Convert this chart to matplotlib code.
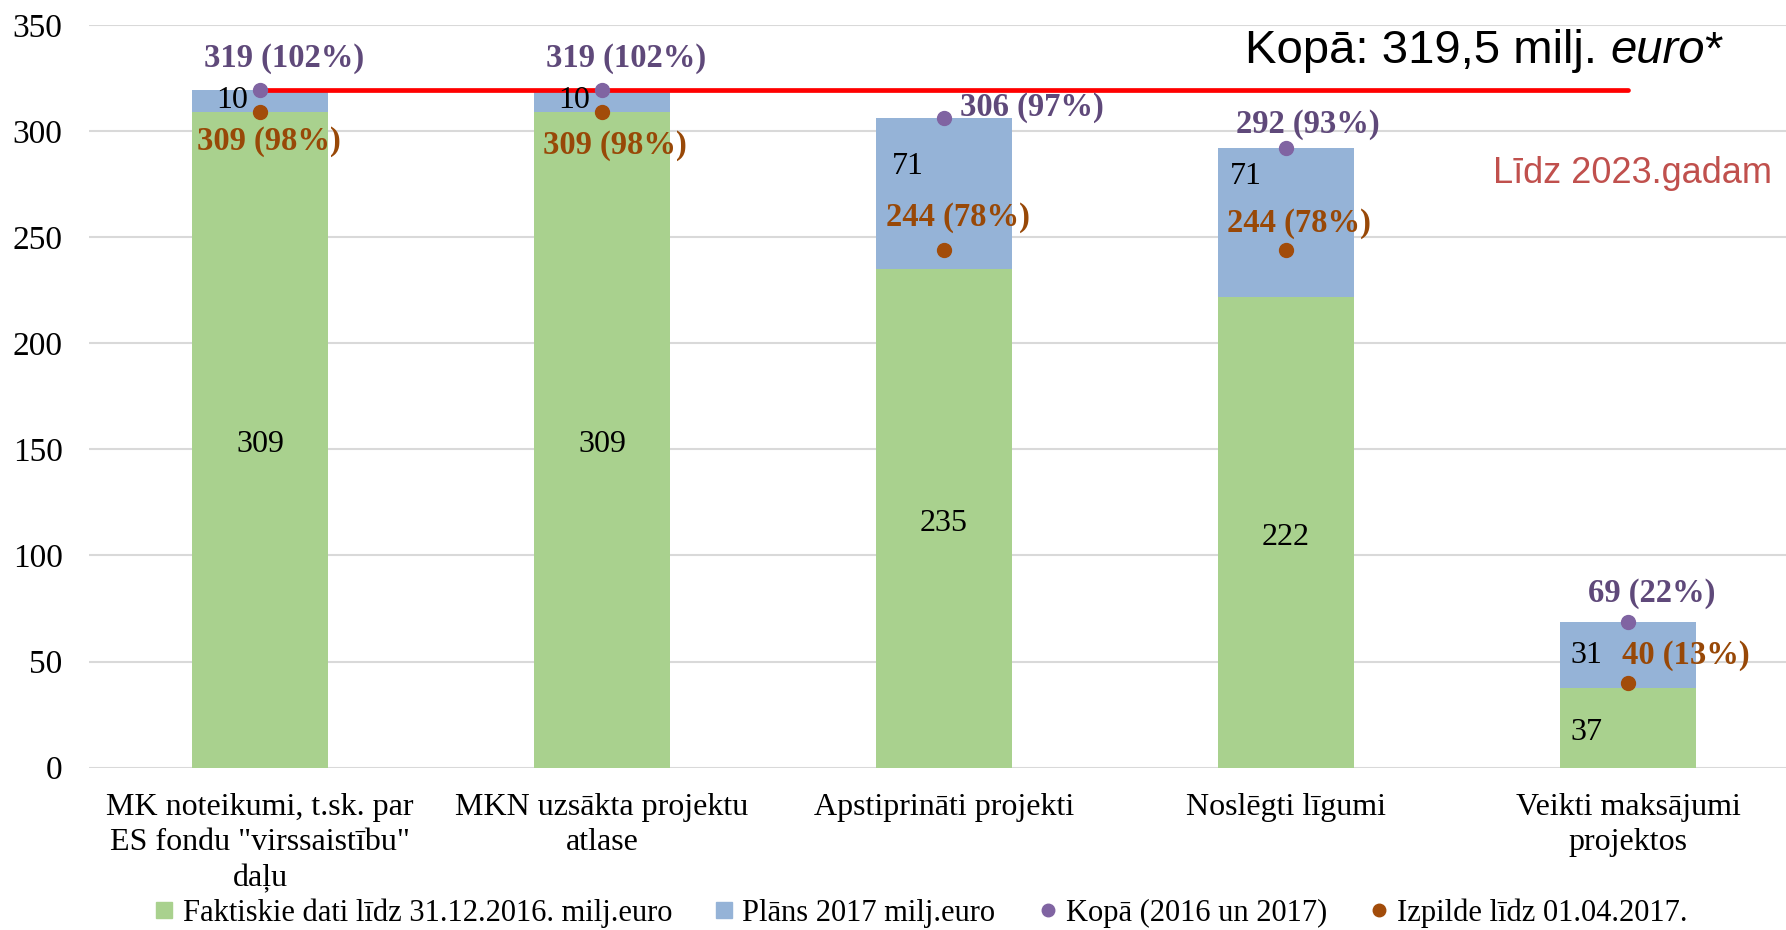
import matplotlib
matplotlib.use("Agg")
from matplotlib import pyplot as plt
from matplotlib.lines import Line2D

categories = ['MK noteikumi, t.sk. par\nES fondu "virssaistību"\ndaļu',
              'MKN uzsākta projektu\natlase',
              'Apstiprināti projekti',
              'Noslēgti līgumi',
              'Veikti maksājumi\nprojektos']
fact = [309.2, 309.2, 235.0, 221.6, 37.4]
plan = [10.1, 10.1, 71.0, 70.6, 31.4]
total_pct = [102, 102, 97, 93, 22]
done = [309, 309, 244, 244, 40]
done_pct = [98, 98, 78, 78, 13]
total_line = 319.5
yticks = [0, 50, 100, 150, 200, 250, 300, 350]

GREEN = '#A9D18E'
BLUE = '#95B3D7'
PURPLE = '#8064A2'
PURPLE_TXT = '#5F497A'
BROWN = '#A24C0A'
BROWN_TXT = '#984807'

plt.rcParams['font.family'] = ['Liberation Serif', 'DejaVu Serif']

fig = plt.figure(figsize=(17.86, 9.3), dpi=100)
ax = fig.add_axes([89 / 1786, 0.1745, 1710 / 1786, 0.7987])

x = list(range(len(categories)))
total = [f + p for f, p in zip(fact, plan)]

ax.bar(x, fact, width=0.4, color=GREEN, zorder=2)
ax.bar(x, plan, width=0.4, bottom=fact, color=BLUE, zorder=2)

# red "Kopā" line
ax.plot([x[0], x[-1]], [total_line, total_line], color='#FF0000', lw=3.4,
        solid_capstyle='round', zorder=3)

ax.plot(x, total, 'o', color=PURPLE, ms=10, zorder=4)
ax.plot(x, done, 'o', color=BROWN, ms=10, zorder=4)

# value labels inside bars
green_off = [(0, -5), (0, -5), (0, -5), (0, -5), (-42, -4)]
blue_off = [(-28, 0), (-28, 0), (-36, 27), (-40, 46), (-42, 0)]
for i in x:
    ax.annotate(f'{fact[i]:.0f}', (i, fact[i] / 2), xytext=green_off[i],
                textcoords='offset pixels', ha='center', va='center',
                fontsize=23, zorder=5)
    ax.annotate(f'{plan[i]:.0f}', (i, fact[i] + plan[i] / 2), xytext=blue_off[i],
                textcoords='offset pixels', ha='center', va='center',
                fontsize=23, zorder=5)

total_off = [(24, 32), (24, 32), (88, 11), (22, 23), (24, 28)]
done_off = [(9, -30), (13, -34), (14, 32), (13, 26), (58, 27)]
for i in x:
    ax.annotate(f'{total[i]:.0f} ({total_pct[i]}%)', (i, total[i]),
                xytext=total_off[i], textcoords='offset pixels',
                ha='center', va='center', fontsize=23.5, fontweight='bold',
                color=PURPLE_TXT, zorder=6)
    ax.annotate(f'{done[i]} ({done_pct[i]}%)', (i, done[i]),
                xytext=done_off[i], textcoords='offset pixels',
                ha='center', va='center', fontsize=23.5, fontweight='bold',
                color=BROWN_TXT, zorder=6)

# annotation texts
t1 = ax.text(2.88, 337.6, 'Kopā: 319,5 milj. ', family='Liberation Sans',
             fontsize=34, ha='left', va='center')
t2 = ax.annotate('euro', xy=(1, 0), xycoords=t1, family='Liberation Sans',
                 fontsize=34, style='italic', ha='left', va='bottom')
ax.annotate('*', xy=(1, 0), xycoords=t2, family='Liberation Sans',
            fontsize=34, ha='left', va='bottom')
ax.text(4.013, 280, 'Līdz 2023.gadam', family='Liberation Sans', fontsize=26,
        color='#C0504D', ha='center', va='center')

ax.set_xlim(-0.5, len(categories) - 0.5)
ax.set_ylim(0, 350)
ax.set_yticks(yticks)
ax.set_xticks(x)
ax.set_xticklabels(categories, fontsize=23, linespacing=1.3)
ax.tick_params(axis='y', labelsize=24, length=0, pad=19)
ax.tick_params(axis='x', length=0, pad=18)
ax.grid(axis='y', color='#D9D9D9', lw=1.5, zorder=0)
for s in ax.spines.values():
    s.set_visible(False)

handles = [
    Line2D([], [], ls='', marker='s', ms=11, color=GREEN),
    Line2D([], [], ls='', marker='s', ms=11, color=BLUE),
    Line2D([], [], ls='', marker='o', ms=9, color=PURPLE),
    Line2D([], [], ls='', marker='o', ms=9, color=BROWN),
]
labels = ['Faktiskie dati līdz 31.12.2016. milj.euro', 'Plāns 2017 milj.euro',
          'Kopā (2016 un 2017)', 'Izpilde līdz 01.04.2017.']
fig.legend(handles, labels, loc='lower center', bbox_to_anchor=(0.516, -0.011),
           ncol=4, frameon=False, fontsize=22, handlelength=0.6,
           handletextpad=0.3, columnspacing=1.4, borderaxespad=0)

fig.savefig('out.png', dpi=100)
